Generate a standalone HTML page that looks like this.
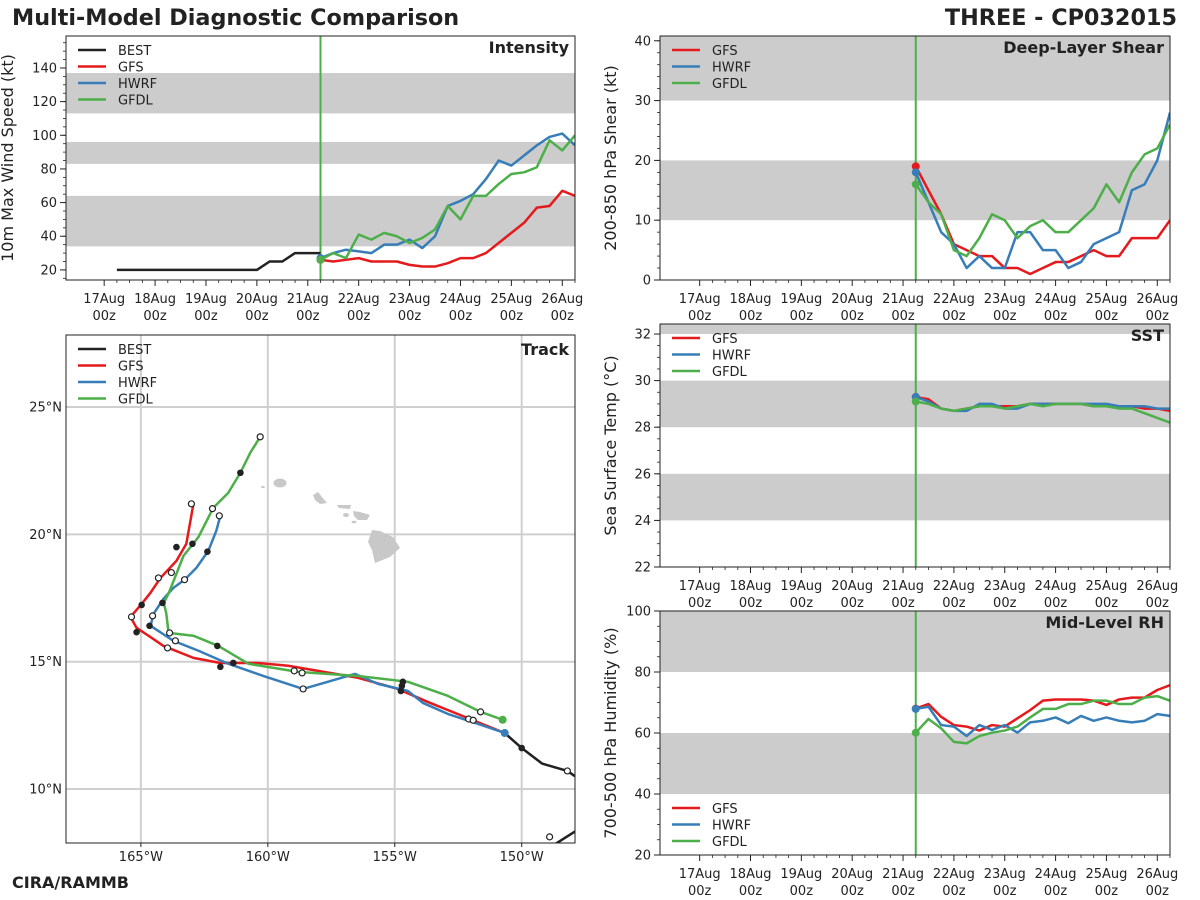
<!DOCTYPE html>
<html><head><meta charset="utf-8">
<style>
html,body{margin:0;padding:0;background:#fff;}
svg{display:block;font-family:"DejaVu Sans","Liberation Sans",sans-serif;}
</style></head>
<body>
<svg id="chart" width="1200" height="900" viewBox="0 0 1200 900" xmlns="http://www.w3.org/2000/svg">
<text x="12" y="25" font-size="22.3" font-weight="bold" fill="#222">Multi-Model Diagnostic Comparison</text>
<text x="1177" y="25" font-size="22.3" font-weight="bold" fill="#222" text-anchor="end">THREE - CP032015</text>
<text x="12" y="888" font-size="16" font-weight="bold" fill="#222">CIRA/RAMMB</text>
<g id="layer"></g>
</svg>
<script>
// ---------- data ----------
const modelTimesStart = 4.25; // days after 17Aug00z (21Aug06z)
const bestTimesStart = 0.25;
const dateLabels = ["17Aug","18Aug","19Aug","20Aug","21Aug","22Aug","23Aug","24Aug","25Aug","26Aug"];
const bestIntensity = [20,20,20,20,20,20,20,20,20,20,20,20,25,25,30,30,30];
const gfsIntensity  = [26,25,26,27,25,25,25,23,22,22,24,27,27,30,36,42,48,57,58,67,64];
const hwrfIntensity = [27,30,32,31,30,35,35,38,33,40,58,61,65,74,85,82,88,94,99,101,94];
const gfdlIntensity = [26,30,27,41,38,42,40,36,39,44,58,50,64,64,71,77,78,81,97,91,100];
const gfsShear  = [19,15,11,6,5,4,4,2,2,1,2,3,3,4,5,4,4,7,7,7,10];
const hwrfShear = [18,13,8,6,2,4,2,2,8,8,5,5,2,3,6,7,8,15,16,20,28];
const gfdlShear = [16,13,11,5,4,7,11,10,7,9,10,8,8,10,12,16,13,18,21,22,26];
const gfsSST  = [29.3,29.2,28.8,28.7,28.8,28.9,28.9,28.9,28.9,29.0,29.0,29.0,29.0,29.0,28.9,28.9,28.9,28.9,28.8,28.8,28.7];
const hwrfSST = [29.3,29.1,28.8,28.7,28.7,29.0,29.0,28.8,28.8,29.0,29.0,29.0,29.0,29.0,29.0,29.0,28.9,28.9,28.9,28.8,28.8];
const gfdlSST = [29.1,29.0,28.8,28.7,28.8,28.9,28.9,28.8,28.9,29.0,28.9,29.0,29.0,29.0,28.9,28.9,28.8,28.8,28.6,28.4,28.2];
const gfsRH  = [68,69.5,65.3,62.6,62.1,60.8,62.6,62.1,64.8,67.5,70.6,71,71,71,70.6,69.2,71,71.6,71.6,74.1,75.7];
const hwrfRH = [67.9,68.6,62.6,62.1,59,62.6,61,62.6,60.1,63.5,64,65.1,63.2,65.6,64,65.1,64,63.5,64,66.2,65.6];
const gfdlRH = [60.1,64.6,61.5,57.1,56.6,59,60.1,60.8,62.1,65.1,67.9,67.9,69.5,69.5,70.6,70.6,69.5,69.5,71.6,72.1,70.6];
// track (lon, lat)
const gfsTrackLon = [-150.67,-152.13,-153.70,-154.88,-156.45,-158.02,-159.20,-160.38,-161.87,-162.93,-164.11,-164.70,-165.17,-165.41,-164.97,-164.62,-164.23,-163.60,-163.21,-162.93];
const gfsTrackLat = [12.20,12.79,13.42,13.93,14.37,14.64,14.84,14.95,14.95,15.15,15.62,16.02,16.33,16.76,17.27,17.71,18.29,18.96,19.63,21.20];
const hwrfTrackLon = [-150.67,-151.73,-152.91,-153.89,-154.48,-155.66,-156.57,-158.61,-160.18,-161.56,-162.73,-163.72,-164.62,-164.5,-164.11,-163.72,-163.28,-162.81,-162.34,-162.03,-161.87];
const hwrfTrackLat = [12.20,12.56,12.95,13.38,13.85,14.13,14.52,13.93,14.44,14.92,15.43,15.82,16.41,16.88,17.47,17.90,18.22,18.69,19.36,20.14,20.73];
const gfdlTrackLon = [-150.75,-151.62,-152.91,-154.48,-156.45,-158.81,-160.77,-161.95,-162.93,-163.91,-164.0,-164.1,-163.9,-163.32,-162.73,-162.15,-161.56,-161.08,-160.69,-160.30];
const gfdlTrackLat = [12.72,13.03,13.66,14.21,14.44,14.60,14.92,15.62,16.02,16.13,16.9,17.3,17.7,19.16,19.9,21.04,21.63,22.42,23.21,23.83];
const bestTrackLon = [-147.0,-148.9,null,-147.9,-148.2,-149.2,-150.0,-150.67];
const bestTrackLat = [8.9,7.7,null,10.5,10.71,11.0,11.61,12.20];
const filledDotLon = [-150.0,-154.68,-154.72,-154.76,-161.36,-161.87,-161.99,-165.17,-164.66,-164.15,-164.97,-162.38,-162.97,-163.60,-161.08];
const filledDotLat = [11.61,14.21,14.05,13.85,14.95,14.80,15.62,16.16,16.41,17.31,17.23,19.32,19.63,19.50,22.42];
const openDotLon = [-148.2,-148.9,-151.62,-152.09,-151.91,-158.61,-158.65,-158.96,-163.95,-163.64,-163.87,-165.37,-164.54,-164.31,-163.28,-163.01,-162.18,-161.91,-160.30,-163.80];
const openDotLat = [10.71,8.12,13.03,12.75,12.7,13.93,14.56,14.64,15.54,15.82,16.13,16.76,16.80,18.29,18.22,21.20,21.01,20.73,23.83,18.50];

// ---------- helpers ----------
const NS="http://www.w3.org/2000/svg";
const layer=document.getElementById('layer');
function mk(tag,attrs,parent){const e=document.createElementNS(NS,tag);for(const k in attrs)e.setAttribute(k,attrs[k]);(parent||layer).appendChild(e);return e;}
const C={best:"#222222",gfs:"#e41a1c",hwrf:"#377eb8",gfdl:"#4daf4a"};

function timePanel(o){
  const g=mk('g',{});
  
  
  const x=t=>o.x0+(t-o.t0)/(o.t1-o.t0)*(o.x1-o.x0);
  const y=v=>o.y1-(v-o.v0)/(o.v1-o.v0)*(o.y1-o.y0);
  const clipId='clip-'+o.name;
  const cp=mk('clipPath',{id:clipId},g);
  mk('rect',{x:o.x0,y:o.y0,width:o.x1-o.x0,height:o.y1-o.y0},cp);
  o.bands.forEach(b=>{
    const r=mk('rect',{x:o.x0,y:y(Math.min(b[1],o.v1)),width:o.x1-o.x0,height:y(b[0])-y(Math.min(b[1],o.v1)),fill:'#cccccc'},g);
    
    
  });
  for(let v=o.minorStart;v<=o.v1;v+=o.minor){const yy=y(v);if(yy<o.y0||yy>o.y1)continue;mk('line',{x1:o.x0-3,x2:o.x0,y1:yy,y2:yy,stroke:'#222','stroke-width':0.8},g);}
  o.ticks.forEach(v=>{const yy=y(v);mk('line',{x1:o.x0-6,x2:o.x0,y1:yy,y2:yy,stroke:'#222','stroke-width':1},g);
    const t=mk('text',{x:o.x0-9,y:yy+4.5,'font-size':13,'text-anchor':'end',fill:'#222'},g);t.textContent=v;
    });
  for(let d=0;d<=9.25;d+=0.25){const xx=x(d);if(xx<o.x0||xx>o.x1)continue;mk('line',{x1:xx,x2:xx,y1:o.y1,y2:o.y1+(d%1===0?6:3),stroke:'#222','stroke-width':d%1===0?1:0.8},g);}
  dateLabels.forEach((lab,i)=>{const xx=x(i);
    const t=mk('text',{x:xx,y:o.y1+23,'font-size':13,'text-anchor':'middle',fill:'#222'},g);t.textContent=lab;
    
    const t2=mk('text',{x:xx,y:o.y1+40,'font-size':13,'text-anchor':'middle',fill:'#222'},g);t2.textContent='00z';
    });
  const yl=mk('text',{x:0,y:0,'font-size':16,'text-anchor':'middle',fill:'#222',transform:`translate(${o.x0-o.ylabOff},${(o.y0+o.y1)/2}) rotate(-90)`},g);
  yl.textContent=o.ylabel;
  const vl=mk('line',{x1:x(modelTimesStart),x2:x(modelTimesStart),y1:o.y0,y2:o.y1,stroke:C.gfdl,'stroke-width':2},g);
  
  const sg=mk('g',{'clip-path':`url(#${clipId})`},g);
  o.series.forEach(s=>{
    const pts=s.vals.map((v,i)=>[x(s.t0+i*0.25),y(v)]);
    const p=mk('polyline',{points:pts.map(p=>p.join(',')).join(' '),fill:'none',stroke:C[s.k],'stroke-width':2.5,'stroke-linejoin':'round'},sg);
    
    if(s.k!=='best'){const c=mk('circle',{cx:pts[0][0],cy:pts[0][1],r:4,fill:C[s.k]},sg);
      }
  });
  mk('rect',{x:o.x0,y:o.y0,width:o.x1-o.x0,height:o.y1-o.y0,fill:'none',stroke:'#222','stroke-width':1},g);
  const tt=mk('text',{x:o.x1-6,y:o.y0+17,'font-size':16,'font-weight':'bold','text-anchor':'end',fill:'#222'},g);
  tt.textContent=o.title;
  legend(g,o.x0+7,o.legY,o.series.map(s=>s.k));
}
function legend(g,x0,y0,keys){
  const lg=mk('g',{},g);
  
  keys.forEach((k,i)=>{const yy=y0+i*16.5;
    const e=mk('g',{},lg);
    
    mk('line',{x1:x0+5,x2:x0+33,y1:yy,y2:yy,stroke:C[k],'stroke-width':2.5},e);
    const t=mk('text',{x:x0+45,y:yy+5,'font-size':13,fill:'#222'},e);t.textContent=k.toUpperCase();});
}

timePanel({name:'intensity',x0:66,x1:575,y0:36,y1:280,t0:-0.75,t1:9.25,v0:14,v1:159,
  ticks:[20,40,60,80,100,120,140],minor:5,minorStart:15,bands:[[34,64],[83,96],[113,137]],
  ylabel:'10m Max Wind Speed (kt)',ylabOff:53,title:'Intensity',legY:50,
  series:[{k:'best',vals:bestIntensity,t0:bestTimesStart},{k:'gfs',vals:gfsIntensity,t0:modelTimesStart},{k:'hwrf',vals:hwrfIntensity,t0:modelTimesStart},{k:'gfdl',vals:gfdlIntensity,t0:modelTimesStart}]});
timePanel({name:'shear',x0:660,x1:1170,y0:36,y1:280,t0:-0.78,t1:9.25,v0:0,v1:40.8,
  ticks:[0,10,20,30,40],minor:2,minorStart:0,bands:[[10,20],[30,41]],
  ylabel:'200-850 hPa Shear (kt)',ylabOff:44,title:'Deep-Layer Shear',legY:50,
  series:[{k:'gfs',vals:gfsShear,t0:modelTimesStart},{k:'hwrf',vals:hwrfShear,t0:modelTimesStart},{k:'gfdl',vals:gfdlShear,t0:modelTimesStart}]});
timePanel({name:'sst',x0:660,x1:1170,y0:324,y1:567,t0:-0.78,t1:9.25,v0:22,v1:32.43,
  ticks:[22,24,26,28,30,32],minor:0.5,minorStart:22,bands:[[24,26],[28,30],[32,33]],
  ylabel:'Sea Surface Temp (°C)',ylabOff:44,title:'SST',legY:338,
  series:[{k:'gfs',vals:gfsSST,t0:modelTimesStart},{k:'hwrf',vals:hwrfSST,t0:modelTimesStart},{k:'gfdl',vals:gfdlSST,t0:modelTimesStart}]});
timePanel({name:'rh',x0:660,x1:1170,y0:611,y1:855,t0:-0.78,t1:9.25,v0:20,v1:100,
  ticks:[20,40,60,80,100],minor:5,minorStart:20,bands:[[40,60],[80,100]],
  ylabel:'700-500 hPa Humidity (%)',ylabOff:44,title:'Mid-Level RH',legY:808,
  series:[{k:'gfs',vals:gfsRH,t0:modelTimesStart},{k:'hwrf',vals:hwrfRH,t0:modelTimesStart},{k:'gfdl',vals:gfdlRH,t0:modelTimesStart}]});

// ---------- track map ----------
(function(){
  const o={x0:66,x1:575,y0:335,y1:843,lon0:-167.95,lon1:-147.9,lat0:7.88,lat1:27.83};
  const g=mk('g',{});
  
  const X=l=>o.x0+(l-o.lon0)/(o.lon1-o.lon0)*(o.x1-o.x0);
  const Y=l=>o.y1-(l-o.lat0)/(o.lat1-o.lat0)*(o.y1-o.y0);
  const cp=mk('clipPath',{id:'clip-track'},g);
  mk('rect',{x:o.x0,y:o.y0,width:o.x1-o.x0,height:o.y1-o.y0},cp);
  const cg=mk('g',{'clip-path':'url(#clip-track)'},g);
  [-165,-160,-155,-150].forEach(l=>{mk('line',{x1:X(l),x2:X(l),y1:o.y0,y2:o.y1,stroke:'#cfcfcf','stroke-width':2},cg);
    const t=mk('text',{x:X(l),y:o.y1+18,'font-size':13,'text-anchor':'middle',fill:'#222'},g);t.textContent=(-l)+'°W';
    
    mk('line',{x1:X(l),x2:X(l),y1:o.y1,y2:o.y1+4,stroke:'#222'},g);});
  [10,15,20,25].forEach(l=>{mk('line',{x1:o.x0,x2:o.x1,y1:Y(l),y2:Y(l),stroke:'#cfcfcf','stroke-width':2},cg);
    const t=mk('text',{x:o.x0-4,y:Y(l)+4.5,'font-size':13,'text-anchor':'end',fill:'#222'},g);t.textContent=l+'°N';
    });
  const isl=mk('g',{fill:'#c8c8c8'},cg);
  
  mk('ellipse',{cx:280,cy:483,rx:6.5,ry:4.5},isl);
  mk('ellipse',{cx:263,cy:487,rx:2,ry:1},isl);
  mk('path',{d:'M313,495 L318,492 L322,497 L327,503 L320,504 L315,500 Z'},isl);
  mk('path',{d:'M337,505 L351,505 L350,509 L339,508 Z'},isl);
  mk('ellipse',{cx:346,cy:515,rx:3,ry:2},isl);
  mk('path',{d:'M353,511 L360,512 L370,515 L367,520 L358,520 L354,516 Z'},isl);
  mk('ellipse',{cx:354,cy:522,rx:2.5,ry:1.3},isl);
  mk('path',{d:'M372,530 L380,531 L393,537 L400,548 L390,557 L375,563 L372,550 L368,542 Z'},isl);
  function line(lons,lats,k,w){let seg=[];const segs=[];
    lons.forEach((l,i)=>{if(l===null){segs.push(seg);seg=[];}else seg.push([X(l),Y(lats[i])]);});segs.push(seg);
    segs.forEach(s=>{const p=mk('polyline',{points:s.map(q=>q.join(',')).join(' '),fill:'none',stroke:C[k],'stroke-width':w,'stroke-linejoin':'round'},cg);
      });}
  line(bestTrackLon,bestTrackLat,'best',2.5);
  line(gfsTrackLon,gfsTrackLat,'gfs',2.5);
  line(hwrfTrackLon,hwrfTrackLat,'hwrf',2.5);
  line(gfdlTrackLon,gfdlTrackLat,'gfdl',2.5);
  filledDotLon.forEach((l,i)=>{const c=mk('circle',{cx:X(l),cy:Y(filledDotLat[i]),r:3.3,fill:'#222'},cg);
    });
  openDotLon.forEach((l,i)=>{const c=mk('circle',{cx:X(l),cy:Y(openDotLat[i]),r:3,fill:'#fff',stroke:'#222','stroke-width':1.2},cg);
    });
  [['hwrf',hwrfTrackLon,hwrfTrackLat],['gfdl',gfdlTrackLon,gfdlTrackLat]].forEach(a=>{
    const c=mk('circle',{cx:X(a[1][0]),cy:Y(a[2][0]),r:4,fill:C[a[0]]},cg);
    });
  mk('rect',{x:o.x0,y:o.y0,width:o.x1-o.x0,height:o.y1-o.y0,fill:'none',stroke:'#222','stroke-width':1},g);
  const tt=mk('text',{x:o.x1-6,y:o.y0+20,'font-size':16,'font-weight':'bold','text-anchor':'end',fill:'#222'},g);
  tt.textContent='Track';
  legend(g,o.x0+7,349,['best','gfs','hwrf','gfdl']);
})();
</script>
</body></html>
